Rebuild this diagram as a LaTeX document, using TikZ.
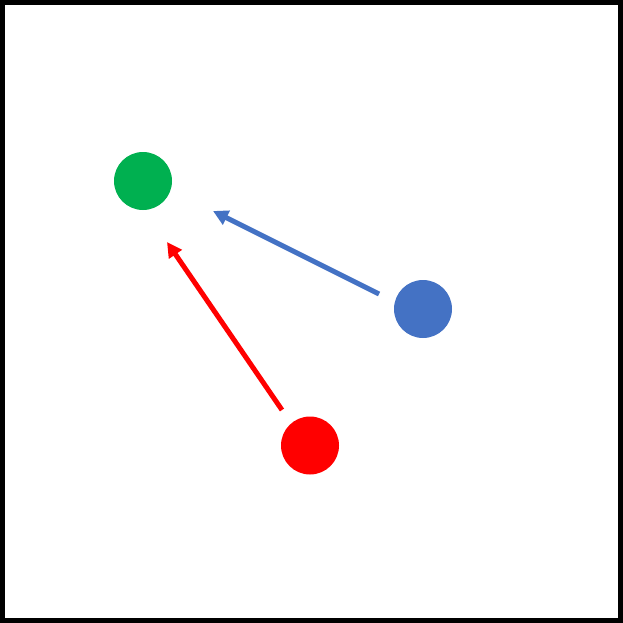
\documentclass[tikz,border=0pt]{standalone}
\usetikzlibrary{arrows.meta}

\definecolor{dotgreen}{HTML}{00B050}
\definecolor{dotblue}{HTML}{4472C4}
\definecolor{dotred}{HTML}{FF0000}

\tikzset{
  dot/.style={circle,minimum size=58pt,inner sep=0pt},
  move/.style={line width=5pt,-{Triangle[length=15pt,width=15pt]}}
}

\begin{document}
\begin{tikzpicture}[x=1pt,y=-1pt]
  % frame
  \useasboundingbox (0,0) rectangle (623,623);
  \draw[line width=5pt] (2.5,2.5) rectangle (620.5,620.5);

  % the three dots
  \node[dot,fill=dotgreen] (green) at (143,181) {};
  \node[dot,fill=dotblue]  (blue)  at (423,309) {};
  \node[dot,fill=dotred]   (red)   at (310,445.5) {};

  % arrow ends
  \coordinate (blue tail) at (379,294);
  \coordinate (blue tip)  at (213,211);
  \coordinate (red tail)  at (282,410);
  \coordinate (red tip)   at (167,242);

  \draw[move,dotblue] (blue tail) -- (blue tip);
  \draw[move,dotred]  (red tail) -- (red tip);
\end{tikzpicture}
\end{document}
